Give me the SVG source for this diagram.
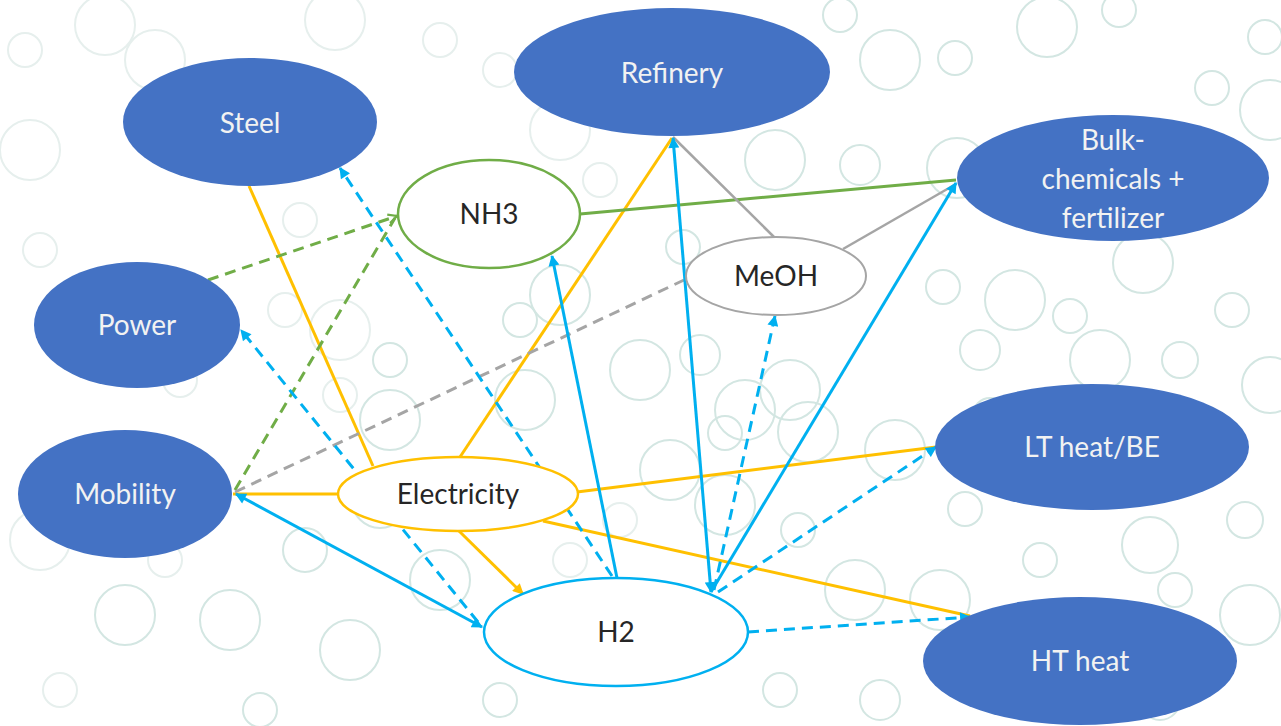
<svg xmlns="http://www.w3.org/2000/svg" width="1281" height="726" viewBox="0 0 1281 726">
<defs>
<style>
.bg circle{fill:none;stroke:#d3e6e2;stroke-width:2}
.bg .f{stroke:#e6efed}
.fill ellipse{fill:#4472C4}
.fill text{fill:#F2F2F2;font-family:Lato,"Open Sans","Liberation Sans",sans-serif;font-size:28px;text-anchor:middle}
.out text{fill:#262626;font-family:Lato,"Open Sans","Liberation Sans",sans-serif;font-size:28px;text-anchor:middle}
.y{stroke:#FFC000;stroke-width:3;fill:none}
.c{stroke:#00B0F0;stroke-width:3;fill:none}
.cd{stroke:#00B0F0;stroke-width:3;fill:none;stroke-dasharray:11 7}
.g{stroke:#70AD47;stroke-width:3;fill:none}
.gd{stroke:#70AD47;stroke-width:3;fill:none;stroke-dasharray:11 7}
.gr{stroke:#A5A5A5;stroke-width:2.5;fill:none}
.grd{stroke:#A5A5A5;stroke-width:3;fill:none;stroke-dasharray:11 7}
</style>
<marker id="ac" viewBox="0 0 10 10" refX="9" refY="5" markerWidth="13" markerHeight="11" markerUnits="userSpaceOnUse" orient="auto-start-reverse"><path d="M0,0 L10,5 L0,10 z" fill="#00B0F0"/></marker>
<marker id="ay" viewBox="0 0 10 10" refX="9" refY="5" markerWidth="13" markerHeight="11" markerUnits="userSpaceOnUse" orient="auto"><path d="M0,0 L10,5 L0,10 z" fill="#FFC000"/></marker>
<marker id="ag" viewBox="0 0 10 10" refX="9" refY="5" markerWidth="12" markerHeight="11" markerUnits="userSpaceOnUse" orient="auto"><path d="M1,1 L9,5 L1,9" fill="none" stroke="#70AD47" stroke-width="2"/></marker>
</defs>
<rect width="1281" height="726" fill="#ffffff"/>
<g class="bg" id="background">
<circle cx="1047" cy="27" r="30"/><circle cx="955" cy="58" r="17"/><circle cx="1119" cy="10" r="17"/><circle cx="1265" cy="37" r="17"/>
<circle cx="1212" cy="88" r="17"/><circle cx="1270" cy="110" r="30"/><circle cx="957" cy="168" r="30"/><circle cx="1143" cy="263" r="30"/>
<circle cx="943" cy="287" r="17"/><circle cx="1070" cy="316" r="17"/><circle cx="1232" cy="310" r="17"/><circle cx="1015" cy="300" r="30"/>
<circle cx="1270" cy="385" r="28"/><circle cx="1100" cy="360" r="30"/><circle cx="980" cy="350" r="20"/><circle cx="1180" cy="360" r="18"/>
<circle cx="965" cy="509" r="17"/><circle cx="1245" cy="520" r="18"/><circle cx="1150" cy="545" r="28"/><circle cx="1040" cy="560" r="17"/>
<circle cx="1250" cy="615" r="30"/><circle cx="1175" cy="590" r="17"/><circle cx="940" cy="600" r="30"/><circle cx="855" cy="590" r="30"/>
<circle cx="808" cy="432" r="30"/><circle cx="725" cy="433" r="17"/><circle cx="798" cy="530" r="17"/><circle cx="725" cy="505" r="30"/>
<circle cx="895" cy="450" r="30"/><circle cx="790" cy="390" r="30"/><circle cx="860" cy="165" r="20"/><circle cx="775" cy="160" r="30"/>
<circle cx="700" cy="355" r="20"/><circle cx="640" cy="370" r="30"/><circle cx="560" cy="295" r="30"/><circle cx="520" cy="320" r="17"/>
<circle cx="683" cy="247" r="17"/><circle cx="745" cy="410" r="30"/><circle cx="670" cy="470" r="30"/><circle cx="525" cy="400" r="30"/>
<circle cx="390" cy="420" r="30"/><circle cx="380" cy="500" r="28"/><circle cx="440" cy="580" r="30"/><circle class="f" cx="340" cy="330" r="30"/>
<circle class="f" cx="300" cy="220" r="17"/><circle class="f" cx="285" cy="310" r="17"/><circle cx="390" cy="360" r="17"/><circle class="f" cx="340" cy="395" r="17"/>
<circle class="f" cx="180" cy="380" r="17"/><circle cx="230" cy="620" r="30"/><circle cx="125" cy="615" r="30"/><circle class="f" cx="40" cy="540" r="30"/>
<circle cx="305" cy="550" r="22"/><circle cx="350" cy="650" r="30"/><circle class="f" cx="60" cy="690" r="17"/><circle class="f" cx="165" cy="560" r="17"/>
<circle class="f" cx="30" cy="150" r="30"/><circle class="f" cx="155" cy="60" r="30"/><circle class="f" cx="335" cy="20" r="30"/><circle class="f" cx="440" cy="40" r="17"/>
<circle class="f" cx="25" cy="50" r="17"/><circle class="f" cx="105" cy="25" r="30"/><circle class="f" cx="40" cy="250" r="17"/><circle class="f" cx="500" cy="70" r="17"/>
<circle cx="890" cy="60" r="30"/><circle cx="840" cy="15" r="17"/><circle class="f" cx="560" cy="130" r="30"/><circle class="f" cx="600" cy="180" r="17"/>
<circle cx="780" cy="690" r="17"/><circle cx="880" cy="700" r="20"/><circle cx="500" cy="700" r="17"/><circle cx="260" cy="710" r="17"/>
<circle cx="990" cy="415" r="17"/><circle cx="1160" cy="700" r="20"/><circle class="f" cx="620" cy="520" r="17"/><circle class="f" cx="570" cy="560" r="17"/>
</g>
<g id="connectors">
<path class="y" d="M249,186 L373,466"/>
<path class="y" d="M460,457 L672,138"/>
<path class="y" d="M233,494 L338,494"/>
<path class="y" d="M577,492 L936,447"/>
<path class="y" d="M543,521 L970,616"/>
<path class="y" d="M459,531 L523,594" marker-end="url(#ay)"/>
<path class="g" d="M580,214 L956,180"/>
<path class="gd" d="M208,280 L397,216" marker-end="url(#ag)"/>
<path class="gd" d="M235,490 L395,218"/>
<path class="grd" d="M235,492 L684,280"/>
<path class="gr" d="M673,137 L775,238"/>
<path class="gr" d="M843,249 L956,184"/>
<path class="c" d="M482,627 L236,494" marker-start="url(#ac)" marker-end="url(#ac)"/>
<path class="cd" d="M478,622 L241,330" marker-end="url(#ac)"/>
<path class="cd" d="M612,576 L340,168" marker-end="url(#ac)"/>
<path class="c" d="M617,578 L552,256" marker-end="url(#ac)"/>
<path class="c" d="M711,592 L673,138" marker-start="url(#ac)" marker-end="url(#ac)"/>
<path class="c" d="M711,592 L956,183" marker-end="url(#ac)"/>
<path class="cd" d="M714,590 L775,316" marker-end="url(#ac)"/>
<path class="cd" d="M718,592 L936,447" marker-end="url(#ac)"/>
<path class="cd" d="M748,632 L970,617" marker-end="url(#ac)"/>
</g>
<g id="steel" class="fill"><ellipse cx="250" cy="122" rx="127" ry="64"/><text x="250" y="133">Steel</text></g>
<g id="refinery" class="fill"><ellipse cx="672" cy="72" rx="158" ry="64"/><text x="672" y="83">Refinery</text></g>
<g id="bulk" class="fill"><ellipse cx="1113" cy="178" rx="156" ry="63"/><text x="1113" y="150">Bulk-</text><text x="1113" y="189">chemicals +</text><text x="1113" y="228">fertilizer</text></g>
<g id="power" class="fill"><ellipse cx="137" cy="325" rx="103" ry="63"/><text x="137" y="335">Power</text></g>
<g id="mobility" class="fill"><ellipse cx="125" cy="494" rx="107" ry="64"/><text x="125" y="504">Mobility</text></g>
<g id="ltheat" class="fill"><ellipse cx="1092" cy="447" rx="157" ry="63"/><text x="1092" y="457">LT heat/BE</text></g>
<g id="htheat" class="fill"><ellipse cx="1080" cy="661" rx="157" ry="64"/><text x="1080" y="671">HT heat</text></g>
<g id="nh3" class="out"><ellipse cx="489" cy="214" rx="91" ry="54" fill="#fff" stroke="#70AD47" stroke-width="2.5"/><text x="489" y="224">NH3</text></g>
<g id="meoh" class="out"><ellipse cx="776" cy="276" rx="90" ry="39" fill="#fff" stroke="#A5A5A5" stroke-width="2"/><text x="776" y="286">MeOH</text></g>
<g id="electricity" class="out"><ellipse cx="458" cy="494" rx="120" ry="37" fill="#fff" stroke="#FFC000" stroke-width="2.5"/><text x="458" y="504">Electricity</text></g>
<g id="h2" class="out"><ellipse cx="616" cy="632" rx="132" ry="54" fill="#fff" stroke="#00B0F0" stroke-width="2.5"/><text x="616" y="642">H2</text></g>
</svg>
